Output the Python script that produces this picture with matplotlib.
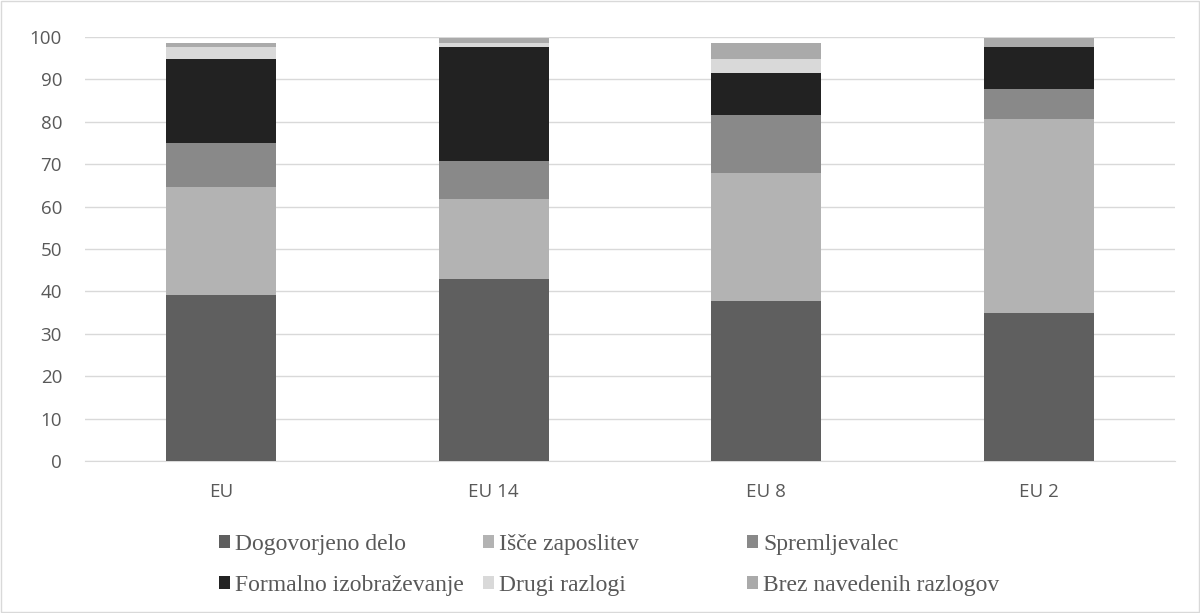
import numpy as np
from matplotlib import pyplot as plt
from matplotlib.patches import Rectangle

# skupine
groups = ["EU", "EU 14", "EU 8", "EU 2"]

# deleži po razlogih (%)
dogovorjeno = [39.2, 42.9, 37.7, 34.9]
isce = [25.4, 18.9, 30.2, 45.8]
spremljevalec = [10.4, 9.0, 13.7, 7.0]
formalno = [19.8, 26.8, 9.9, 9.9]
drugi = [2.8, 1.0, 3.3, 0.0]
brez = [1.0, 1.1, 3.8, 2.1]

labels = ["Dogovorjeno delo", "Išče zaposlitev", "Spremljevalec",
          "Formalno izobraževanje", "Drugi razlogi", "Brez navedenih razlogov"]
colors = ["#5f5f5f", "#b3b3b3", "#898989", "#222222", "#d9d9d9", "#aaaaaa"]
series = [dogovorjeno, isce, spremljevalec, formalno, drugi, brez]

fig = plt.figure(figsize=(12, 6.13), dpi=100)
ax = fig.add_axes([0.0708, 0.248, 0.9084, 0.6917])

x = np.arange(len(groups))
bottom = np.zeros(len(groups))
bars = []
for vals, lab, c in zip(series, labels, colors):
    b = ax.bar(x, vals, width=0.404, bottom=bottom, color=c, label=lab, zorder=3)
    bars.append(b)
    bottom += np.array(vals)

ax.set_xlim(-0.5, len(groups) - 0.5)
ax.set_ylim(0, 100)
ax.set_yticks(range(0, 101, 10))
ax.set_xticks(x)
ax.set_xticklabels(groups)
ax.yaxis.grid(True, color="#d9d9d9", linewidth=1, zorder=0)
for s in ["top", "right", "left"]:
    ax.spines[s].set_visible(False)
ax.spines["bottom"].set_color("#d9d9d9")
ax.tick_params(axis="both", length=0, labelsize=13.5, colors="#595959")
ax.tick_params(axis="x", pad=16)
ax.tick_params(axis="y", pad=16.5)
for t in ax.get_xticklabels() + ax.get_yticklabels():
    t.set_fontfamily("Open Sans")

# legenda: trije stolpci enake širine (kot v Excelu)
col_x = [219, 483, 747]
for k, cx in enumerate(col_x):
    idx = [k, k + 3]
    leg = fig.legend([bars[i] for i in idx], [labels[i] for i in idx],
                     loc="center left", bbox_to_anchor=(cx / 1200, 48 / 613),
                     frameon=False, borderaxespad=0, borderpad=0,
                     prop={"family": "Liberation Serif", "size": 17},
                     handlelength=0.48, handleheight=0.48, handletextpad=0.2,
                     labelspacing=0.85)
    for t in leg.get_texts():
        t.set_color("#595959")

fig.patches.append(Rectangle((0.001, 0.001), 0.998, 0.998, transform=fig.transFigure,
                             fill=False, edgecolor="#d9d9d9", linewidth=1))

fig.savefig("out.png", dpi=100)
